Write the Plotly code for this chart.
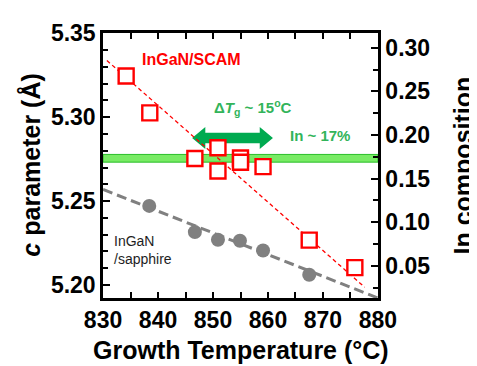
import plotly.graph_objects as go

# ---- data ----
scam_T = [834.2, 838.5, 846.7, 850.9, 850.9, 855.0, 855.0, 859.1, 867.5, 875.8]
scam_c = [5.3246, 5.3026, 5.2754, 5.2818, 5.2679, 5.2757, 5.2731, 5.2705, 5.2267, 5.2103]
sap_T = [838.4, 846.7, 850.9, 854.9, 859.1, 867.5]
sap_c = [5.2471, 5.2315, 5.2269, 5.2263, 5.2205, 5.2061]
scam_fit_T = [830.7, 877.6]
scam_fit_c = [5.3338, 5.1986]
sap_fit_T = [830.0, 880.0]
sap_fit_c = [5.2569, 5.1922]
band_c = [5.2732, 5.2778]
arrow_T = [846.2, 860.9]
arrow_c = 5.2876
x_ticks = [830, 840, 850, 860, 870, 880]
y_ticks = [5.20, 5.25, 5.30, 5.35]
y2_ticks = [0.05, 0.10, 0.15, 0.20, 0.25, 0.30]

FONT = "Arial, Liberation Sans, sans-serif"

fig = go.Figure()

# green band (In ~ 17%)
fig.add_shape(type="rect", xref="x", yref="y", x0=830, x1=880,
              y0=band_c[0], y1=band_c[1],
              fillcolor="rgb(120,235,100)", line=dict(color="rgb(40,190,40)", width=1),
              layer="below")

# double arrow polygon
sh = 0.0032   # shaft half height
hh = 0.0066   # head half height
hl = 2.4      # head length
a0, a1 = arrow_T
ax = [a0, a0 + hl, a0 + hl, a1 - hl, a1 - hl, a1, a1 - hl, a1 - hl, a0 + hl, a0 + hl, a0]
ay = [arrow_c, arrow_c + hh, arrow_c + sh, arrow_c + sh, arrow_c + hh, arrow_c,
      arrow_c - hh, arrow_c - sh, arrow_c - sh, arrow_c - hh, arrow_c]
fig.add_trace(go.Scatter(x=ax, y=ay, fill="toself", mode="lines",
                         fillcolor="rgb(0,170,80)", line=dict(width=0, color="rgb(0,170,80)"),
                         hoverinfo="skip", showlegend=False))

# fit lines
fig.add_trace(go.Scatter(x=sap_fit_T, y=sap_fit_c, mode="lines",
                         line=dict(color="rgb(128,128,128)", width=3, dash="10px,5px"),
                         showlegend=False))
fig.add_trace(go.Scatter(x=scam_fit_T, y=scam_fit_c, mode="lines",
                         line=dict(color="rgb(255,0,0)", width=1.3, dash="4px,3px"),
                         showlegend=False))

# markers
fig.add_trace(go.Scatter(x=sap_T, y=sap_c, mode="markers",
                         marker=dict(symbol="circle", size=14, color="rgb(128,128,128)",
                                     line=dict(width=0)),
                         showlegend=False))
fig.add_trace(go.Scatter(x=scam_T, y=scam_c, mode="markers",
                         marker=dict(symbol="square", size=15, color="rgba(255,255,255,1)",
                                     line=dict(width=2.4, color="rgb(255,0,0)")),
                         showlegend=False))

# invisible trace for right axis
fig.add_trace(go.Scatter(x=[855], y=[0.17], yaxis="y2", mode="markers",
                         marker=dict(opacity=0), hoverinfo="skip", showlegend=False))

axis_common = dict(showline=True, linecolor="black", linewidth=2.5, ticks="inside",
                   tickcolor="black", tickwidth=2, showgrid=False, zeroline=False,
                   tickfont=dict(family=FONT, size=23, color="black", weight="bold"))

# page has an 8px body margin; figure is shrunk so the plot frame lands at
# x 103..378, y 25..298 in the page
fig.update_layout(
    width=469, height=358,
    margin=dict(l=95, r=99, t=17, b=68),
    paper_bgcolor="white", plot_bgcolor="white",
    font=dict(family=FONT),
    xaxis=dict(range=[829.99, 880.01], tickvals=x_ticks, ticklen=6, mirror="allticks",
               minor=dict(ticks="inside", dtick=5, tick0=830, ticklen=5, tickwidth=2, tickcolor="black"),
               **axis_common),
    yaxis=dict(range=[5.1922, 5.3502], tickvals=y_ticks, tickformat=".2f", ticklen=7,
               minor=dict(ticks="inside", dtick=0.01, tick0=5.2, ticklen=5, tickwidth=2, tickcolor="black"),
               **axis_common),
    yaxis2=dict(range=[0.0133, 0.3168], tickvals=y2_ticks, tickformat=".2f", ticklen=7,
                overlaying="y", side="right",
                minor=dict(ticks="inside", dtick=0.025, tick0=0.025, ticklen=5, tickwidth=2, tickcolor="black"),
                **axis_common),
)

annots = [
    dict(x=0.5, y=-0.198, xref="paper", yref="paper", text="Growth Temperature (°C)",
         showarrow=False, font=dict(size=25, color="black", family=FONT, weight="bold"),
         xanchor="center", yanchor="middle"),
    dict(x=-0.265, y=0.5, xref="paper", yref="paper", text="<i>c</i> parameter (Å)",
         textangle=-90, showarrow=False,
         font=dict(size=25, color="black", family=FONT, weight="bold"),
         xanchor="center", yanchor="middle"),
    dict(x=1.309, y=0.5, xref="paper", yref="paper", text="In composition",
         textangle=-90, showarrow=False,
         font=dict(size=25, color="black", family=FONT, weight="bold"),
         xanchor="center", yanchor="middle"),
    dict(x=846.0, y=5.3344, xref="x", yref="y", text="InGaN/SCAM", showarrow=False,
         font=dict(size=16, color="rgb(255,0,0)", family=FONT, weight="bold"),
         xanchor="center", yanchor="middle"),
    dict(x=831.6, y=5.2211, xref="x", yref="y", text="InGaN<br>/sapphire", showarrow=False,
         align="left", font=dict(size=14, color="rgb(30,30,30)", family=FONT),
         xanchor="left", yanchor="middle"),
    dict(x=857.3, y=5.3055, xref="x", yref="y",
         text="Δ<i>T</i><sub>g</sub> ~ 15<sup>o</sup>C", showarrow=False,
         font=dict(size=15, color="rgb(50,180,90)", family=FONT, weight="bold"),
         xanchor="center", yanchor="middle"),
    dict(x=869.5, y=5.2893, xref="x", yref="y", text="In ~ 17%", showarrow=False,
         font=dict(size=15, color="rgb(50,180,90)", family=FONT, weight="bold"),
         xanchor="center", yanchor="middle"),
]
fig.update_layout(annotations=annots)

fig.write_html("out.html")
